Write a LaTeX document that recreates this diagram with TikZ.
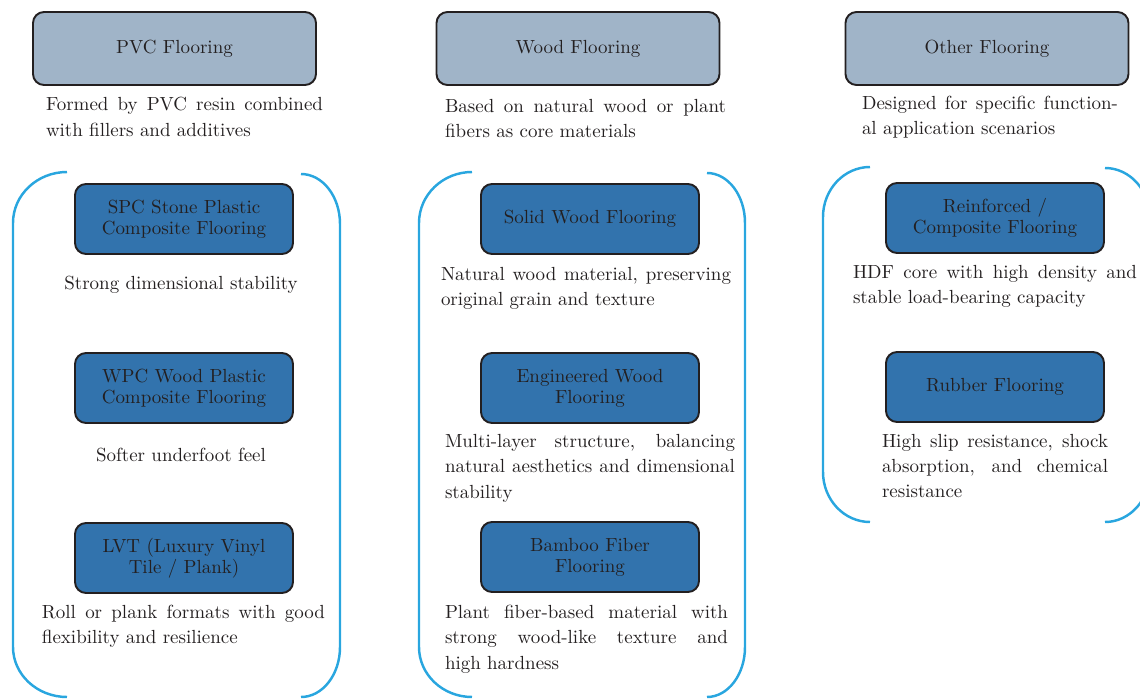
\documentclass[tikz,border=0pt]{standalone}
\usetikzlibrary{positioning}
\definecolor{catfill}{HTML}{A0B4C8}
\definecolor{typefill}{HTML}{3273AD}
\definecolor{bracketblue}{HTML}{29A6DF}
\definecolor{inktext}{HTML}{231F20}
\tikzset{every picture/.style={line width=0.75pt}}
\tikzset{
  catbox/.style={draw=inktext,line width=1.1pt,rounded corners=0.22cm,fill=catfill,
    minimum width=5.66cm,minimum height=1.46cm,text=inktext,align=center,
    font=\fontsize{10.8}{12}\selectfont},
  typebox/.style={catbox,fill=typefill,minimum width=4.36cm,minimum height=1.4cm},
  desc/.style={text=inktext,align=justify,inner sep=0pt,font=\fontsize{10.8}{14.5}\selectfont},
  bracket/.style={draw=bracketblue,line width=1.4pt}
}

\begin{document}
\begin{tikzpicture}
    \useasboundingbox (0,0) rectangle (22.8,13.96);

    % === Left: PVC Flooring ===
    \node[catbox] (pvc) at (3.49,12.99) {PVC Flooring};
    \node[desc,text width=5.54cm] (pvcdesc) at (3.69,11.62) {Formed by PVC resin combined\linebreak with fillers and additives};

    % bracket
    \draw[bracket] (1.34,10.52) arc[start angle=90,end angle=180,x radius=1.08,y radius=1.02]
        -- (0.26,1.02) arc[start angle=180,end angle=270,x radius=1.08,y radius=1.0];
    \draw[bracket] (6.02,10.48) arc[start angle=90,end angle=0,x radius=0.78,y radius=1.0]
        -- (6.8,1.02) arc[start angle=0,end angle=-90,x radius=0.78,y radius=1.0];

    \node[typebox] (spc) at (3.68,9.58) {SPC Stone Plastic\\Composite Flooring};
    \node[desc,align=center] (spcdesc) at (3.62,8.26) {Strong dimensional stability};
    \node[typebox] (wpc) at (3.68,6.2) {WPC Wood Plastic\\Composite Flooring};
    \node[desc,align=center] (wpcdesc) at (3.62,4.86) {Softer underfoot feel};
    \node[typebox] (lvt) at (3.68,2.8) {LVT (Luxury Vinyl\\Tile / Plank)};
    \node[desc,text width=5.66cm] (lvtdesc) at (3.67,1.43) {Roll or plank formats with good\linebreak flexibility and resilience};

    % === Center: Wood Flooring ===
    \node[catbox] (wood) at (11.56,12.99) {Wood Flooring};
    \node[desc,text width=5.62cm] (wooddesc) at (11.71,11.59) {Based on natural wood or plant\linebreak fibers as core materials};

    % bracket
    \draw[bracket] (9.44,10.52) arc[start angle=90,end angle=180,x radius=1.06,y radius=1.02]
        -- (8.38,1.02) arc[start angle=180,end angle=270,x radius=1.06,y radius=1.0];
    \draw[bracket] (14.14,10.5) arc[start angle=90,end angle=0,x radius=0.76,y radius=1.0]
        -- (14.9,1.02) arc[start angle=0,end angle=-90,x radius=0.76,y radius=1.0];

    \node[typebox] (solid) at (11.8,9.58) {Solid Wood Flooring};
    \node[desc,text width=5.8cm] (soliddesc) at (11.72,8.19) {Natural wood material, preserving\linebreak original grain and texture};
    \node[typebox] (eng) at (11.8,6.2) {Engineered Wood\\Flooring};
    \node[desc,text width=5.8cm] (engdesc) at (11.8,4.6) {Multi-layer structure, balancing\linebreak natural aesthetics and dimensional\linebreak stability};
    \node[typebox] (bamboo) at (11.8,2.82) {Bamboo Fiber\\Flooring};
    \node[desc,text width=5.66cm] (bamboodesc) at (11.73,1.18) {Plant fiber-based material with\linebreak strong wood-like texture and\linebreak high hardness};

    % === Right: Other Flooring ===
    \node[catbox] (other) at (19.74,12.99) {Other Flooring};
    \node[desc,text width=5.12cm] (otherdesc) at (19.8,11.62) {Designed for specific function-\linebreak al application scenarios};

    % bracket
    \draw[bracket] (17.4,10.62) arc[start angle=90,end angle=180,x radius=0.94,y radius=1.0]
        -- (16.46,4.52) arc[start angle=180,end angle=270,x radius=0.94,y radius=1.0];
    \draw[bracket] (22.1,10.6) arc[start angle=90,end angle=0,x radius=0.9,y radius=1.0]
        -- (23.0,4.52) arc[start angle=0,end angle=-90,x radius=0.9,y radius=1.0];

    \node[typebox] (reinf) at (19.9,9.6) {Reinforced /\\Composite Flooring};
    \node[desc,text width=5.68cm] (reinfdesc) at (19.9,8.23) {HDF core with high density and\linebreak stable load-bearing capacity};
    \node[typebox] (rubber) at (19.9,6.22) {Rubber Flooring};
    \node[desc,text width=4.52cm] (rubberdesc) at (19.9,4.64) {High slip resistance, shock\linebreak absorption, and chemical\linebreak resistance};
\end{tikzpicture}
\end{document}
